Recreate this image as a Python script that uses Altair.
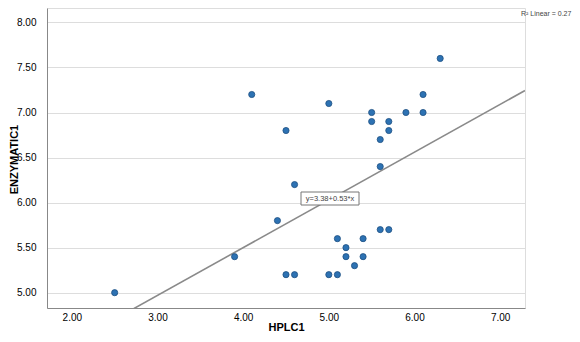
import altair as alt
import pandas as pd

hplc = [2.5, 3.9, 4.4, 4.1, 4.5, 4.5, 4.6, 4.6, 5.0, 5.0, 5.1, 5.1, 5.2, 5.2, 5.3,
        5.4, 5.4, 5.5, 5.5, 5.6, 5.6, 5.6, 5.7, 5.7, 5.7, 5.9, 6.1, 6.1, 6.3]
enzymatic = [5.0, 5.4, 5.8, 7.2, 6.8, 5.2, 5.2, 6.2, 7.1, 5.2, 5.2, 5.6, 5.5, 5.4, 5.3,
             5.6, 5.4, 7.0, 6.9, 6.7, 6.4, 5.7, 5.7, 6.9, 6.8, 7.0, 7.0, 7.2, 7.6]
intercept = 3.38
slope = 0.53
r2 = 0.27
x_domain = [1.71, 7.29]
y_domain = [4.83, 8.16]
x_ticks = [2, 3, 4, 5, 6, 7]
y_ticks = [5.0, 5.5, 6.0, 6.5, 7.0, 7.5, 8.0]

pts = pd.DataFrame({"HPLC1": hplc, "ENZYMATIC1": enzymatic})
fit = pd.DataFrame({"HPLC1": x_domain,
                    "ENZYMATIC1": [intercept + slope * v for v in x_domain]})

FONT = "Liberation Sans"

xs = alt.X("HPLC1:Q", scale=alt.Scale(domain=x_domain, nice=False, zero=False),
           axis=alt.Axis(values=x_ticks, format=".2f", grid=False, ticks=False,
                         labelPadding=4, title="HPLC1",
                         titleY=19, titleBaseline="middle"))
ys = alt.Y("ENZYMATIC1:Q", scale=alt.Scale(domain=y_domain, nice=False, zero=False),
           axis=alt.Axis(values=y_ticks, format=".2f", grid=True, ticks=False,
                         labelPadding=11, title="ENZYMATIC1",
                         titleX=-33, titleY=151, titleAngle=270,
                         titleAlign="center", titleBaseline="middle"))

points = alt.Chart(pts).mark_point(
    filled=True, size=38, color="#2d72b3", stroke="#1d4f82", strokeWidth=0.8, opacity=1
).encode(x=xs, y=ys)

line = alt.Chart(fit).mark_line(color="#8a8a8a", strokeWidth=1.6, clip=True).encode(
    x="HPLC1:Q", y="ENZYMATIC1:Q")

eq_df = pd.DataFrame({"label": [f"y={intercept:.2f}+{slope:.2f}*x"]})
box = alt.Chart(eq_df).mark_rect(fill="white", stroke="#777777", strokeWidth=1).encode(
    x=alt.value(254), x2=alt.value(312), y=alt.value(184), y2=alt.value(197))
eq_text = alt.Chart(eq_df).mark_text(font=FONT, fontSize=7.5, color="#444444",
                                     align="center", baseline="middle").encode(
    x=alt.value(283), y=alt.value(190.5), text="label:N")

r2_df = pd.DataFrame({"label": [f"R\u00b2 Linear = {r2:.2f}"]})
r2_text = alt.Chart(r2_df).mark_text(font=FONT, fontSize=7, color="#444444",
                                     align="left", baseline="middle").encode(
    x=alt.value(474), y=alt.value(6), text="label:N")

chart = alt.layer(line, points, box, eq_text, r2_text).properties(
    width=478, height=300,
    autosize=alt.AutoSizeParams(type="none"),
    padding={"left": 39, "top": 0, "right": 47, "bottom": 26},
).configure_view(stroke=None).configure_axis(
    domainColor="#8c8c8c", domainWidth=1.5, gridColor="#dcdcdc", gridWidth=1,
    labelFont=FONT, labelFontSize=6.5, labelColor="#777777",
    titleFont=FONT, titleFontSize=11, titleFontWeight="bold", titleColor="#222222",
).configure(background="white")

chart.save("out.html", embed_options={"renderer": "svg", "actions": False})
